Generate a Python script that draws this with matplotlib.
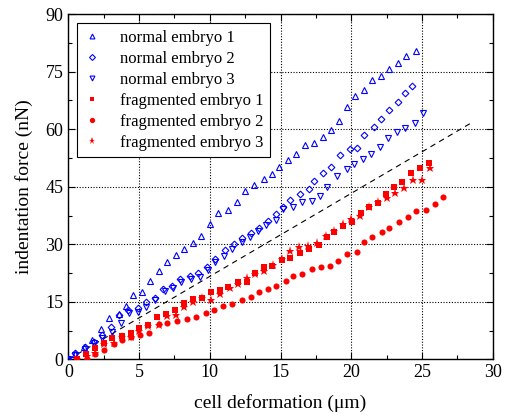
import matplotlib
matplotlib.use("Agg")
import matplotlib.pyplot as plt
import numpy as np

plt.rcParams['font.family'] = ['Liberation Serif', 'DejaVu Serif']
plt.rcParams['mathtext.fontset'] = 'stix'

# normal embryo 1 (open triangles up)
n1_x = [0, 0.5, 1.1, 1.7, 2.3, 2.9, 3.6, 4.1, 4.6, 5.2, 5.8, 6.4, 7.0, 7.6, 8.2, 8.8, 9.4, 10.0, 10.6, 11.3, 11.9,
        12.5, 13.1, 13.8, 14.4, 14.9, 15.5, 16.1, 16.7, 17.4, 18.0, 18.6, 19.15, 19.7, 20.3, 20.9, 21.5, 22.1, 22.7,
        23.3, 23.9, 24.55]
n1_y = [0, 1.5, 3.3, 5.0, 8.0, 10.7, 11.8, 13.8, 16.7, 17.6, 20.4, 23.1, 25.4, 27.1, 28.9, 30.3, 32.3, 35.2, 38.1,
        39.0, 41.1, 44.0, 45.5, 47.0, 48.4, 50.1, 51.9, 53.6, 56.0, 56.4, 58.1, 59.8, 62.2, 65.9, 68.7, 70.3, 72.8,
        73.8, 75.6, 77.3, 79.0, 80.4]

# normal embryo 2 (open diamonds)
n2_x = [0, 0.5, 1.2, 1.8, 2.4, 3.0, 3.6, 4.2, 4.9, 5.5, 6.1, 6.7, 7.3, 7.9, 8.6, 9.2, 9.8, 10.4, 11.05, 11.7, 12.25,
        12.9, 13.5, 14.1, 14.7, 15.2, 15.7, 16.4, 17.0, 17.4, 18.0, 18.6, 19.2, 19.9, 20.4, 20.9, 21.6, 22.1, 22.7,
        23.3, 23.8, 24.3]
n2_y = [0, 1.6, 3.3, 4.6, 6.3, 8.5, 11.6, 12.9, 13.5, 15.0, 15.9, 18.3, 19.1, 21.0, 21.8, 22.4, 24.2, 26.1, 28.5,
        30.0, 31.6, 32.9, 34.2, 36.1, 37.8, 39.7, 41.5, 43.0, 44.4, 46.6, 48.6, 50.2, 53.3, 54.9, 55.1, 58.5, 60.5,
        62.7, 65.0, 67.0, 69.5, 71.2]

# normal embryo 3 (open triangles down)
n3_x = [0, 0.5, 1.2, 1.8, 2.4, 3.1, 3.7, 4.3, 4.9, 5.5, 6.1, 6.8, 7.4, 8.0, 8.65, 9.3, 9.9, 10.4, 11.0, 11.6, 12.25,
        12.85, 13.4, 14.0, 14.7, 15.2, 15.9, 16.5, 17.2, 17.8, 18.3, 19.0, 19.7, 20.2, 20.85, 21.4, 22.0, 22.6,
        23.25, 23.8, 24.5, 25.1]
n3_y = [0, 1.2, 2.8, 4.2, 5.6, 7.2, 9.5, 12.0, 12.4, 13.7, 15.5, 17.9, 18.6, 20.2, 20.9, 21.6, 23.2, 25.5, 26.9,
        28.8, 30.7, 32.0, 33.5, 35.0, 36.3, 39.2, 39.7, 41.0, 41.4, 42.7, 44.9, 47.8, 49.6, 50.9, 52.3, 53.6, 55.5,
        57.6, 59.2, 60.4, 61.7, 64.2]

# fragmented embryo 1 (filled squares)
f1_x = [0.6, 1.25, 1.9, 2.5, 3.1, 3.8, 4.4, 5.0, 5.65, 6.3, 6.9, 7.55, 8.2, 8.8, 9.45, 10.1, 10.7, 11.3, 12.0, 12.6,
        13.2, 13.8, 14.4, 15.1, 15.7, 16.4, 17.0, 17.7, 18.3, 18.8, 19.45, 20.05, 20.7, 21.25, 21.9, 22.45, 23.0,
        23.6, 24.2, 24.85, 25.5]
f1_y = [0, 1.4, 3.0, 4.3, 5.5, 6.1, 6.8, 8.1, 9.1, 11.0, 11.9, 12.9, 14.6, 15.7, 16.0, 17.6, 18.1, 18.8, 20.2, 20.2,
        22.5, 24.2, 24.4, 25.9, 26.5, 27.7, 28.9, 29.8, 31.8, 33.2, 34.8, 35.7, 38.1, 39.8, 40.9, 43.2, 45.0, 46.3,
        48.5, 49.9, 51.3]

# fragmented embryo 2 (filled circles)
f2_x = [1.3, 1.9, 2.5, 3.2, 3.8, 4.4, 5.1, 5.7, 6.4, 7.0, 7.7, 8.4, 9.0, 9.7, 10.3, 10.95, 11.55, 12.25, 12.9, 13.5,
        14.1, 14.7, 15.4, 15.9, 16.5, 17.25, 17.85, 18.5, 19.1, 19.7, 20.4, 20.9, 21.5, 22.15, 22.7, 23.4, 24.0,
        24.6, 25.3, 25.95, 26.5]
f2_y = [0, 1.3, 2.5, 4.1, 5.1, 5.9, 6.3, 6.9, 9.2, 9.6, 10.0, 10.5, 11.1, 12.0, 13.0, 13.9, 14.4, 15.5, 16.3, 17.5,
        18.3, 19.2, 20.4, 21.8, 22.2, 23.5, 24.0, 24.3, 25.6, 27.4, 27.9, 30.7, 31.8, 33.3, 34.2, 35.7, 37.2, 38.8,
        39.0, 40.5, 42.4]

# fragmented embryo 3 (filled stars)
f3_x = [0.6, 1.3, 1.9, 2.5, 3.2, 3.8, 4.4, 5.0, 5.65, 6.4, 6.95, 7.6, 8.2, 8.8, 9.45, 10.1, 10.7, 11.4, 12.0, 12.6,
        13.2, 13.85, 14.45, 15.1, 15.7, 16.3, 16.97, 17.6, 18.2, 18.8, 19.45, 20.0, 20.6, 21.25, 21.9, 22.5, 23.1,
        23.7, 24.4, 25.0, 25.6]
f3_y = [0, 0.9, 1.6, 4.0, 4.2, 5.9, 5.9, 7.4, 8.7, 8.9, 11.2, 11.6, 13.6, 15.0, 15.9, 15.6, 17.0, 18.5, 19.6, 21.1,
        22.3, 23.1, 24.6, 26.2, 28.2, 29.2, 29.6, 30.4, 32.2, 33.6, 35.3, 36.5, 37.5, 39.7, 41.1, 42.0, 43.3, 44.6,
        46.8, 46.8, 49.8]

# dashed reference line
ref_x = [0, 28.6]
ref_y = [0, 61.9]

labels = ["normal embryo 1", "normal embryo 2", "normal embryo 3",
          "fragmented embryo 1", "fragmented embryo 2", "fragmented embryo 3"]
x_ticks = [0, 5, 10, 15, 20, 25, 30]
y_ticks = [0, 15, 30, 45, 60, 75, 90]

fig = plt.figure(figsize=(5.10, 4.16), dpi=100)
ax = fig.add_axes([0.134, 0.136, 0.832, 0.830])

blue = '#0000ff'
red = '#ff0000'
ax.plot(ref_x, ref_y, color='black', linestyle=(0, (5, 4)), linewidth=0.8, zorder=2)

kw_open = dict(linestyle='none', markerfacecolor='none', markeredgecolor=blue, markeredgewidth=0.8, zorder=3)
kw_fill = dict(linestyle='none', color=red, markeredgewidth=0, zorder=3)
ax.plot(n1_x, n1_y, marker='^', markersize=4.3, label=labels[0], **kw_open)
ax.plot(n2_x, n2_y, marker='D', markersize=3.4, label=labels[1], **kw_open)
ax.plot(n3_x, n3_y, marker='v', markersize=4.3, label=labels[2], **kw_open)
ax.plot(f1_x, f1_y, marker='s', markersize=4.0, label=labels[3], **kw_fill)
ax.plot(f2_x, f2_y, marker='o', markersize=4.4, label=labels[4], **kw_fill)
ax.plot(f3_x, f3_y, marker='*', markersize=6.8, label=labels[5], **kw_fill)

ax.set_xlim(0, 30)
ax.set_ylim(0, 90)
ax.set_xticks(x_ticks)
ax.set_yticks(y_ticks)
ax.set_xticks(np.arange(0, 30.1, 2.5), minor=True)
ax.set_yticks(np.arange(0, 90.1, 7.5), minor=True)
ax.tick_params(which='both', direction='in', top=True, right=True, labelsize=13, width=0.8)
ax.tick_params(which='major', length=5)
ax.tick_params(which='minor', length=3)
ax.grid(True, which='major', linestyle=(0, (1, 1.5)), color='black', linewidth=0.8)
for s in ax.spines.values():
    s.set_linewidth(1.0)

ax.set_xlabel("cell deformation (μm)", fontsize=14, labelpad=9)
ax.set_ylabel("indentation force (nN)", fontsize=14, labelpad=9)

leg = ax.legend(loc='upper left', bbox_to_anchor=(0.02, 0.974), borderaxespad=0, fontsize=12, numpoints=1,
                handlelength=1.0, handletextpad=1.2, labelspacing=0.3, borderpad=0.4,
                fancybox=False, framealpha=1, edgecolor='black')
leg.get_frame().set_linewidth(0.8)
for h, ms in zip(leg.legend_handles, [3.5, 3.0, 3.5, 3.4, 3.8, 5.2]):
    h.set_markersize(ms)

fig.savefig("out.png", dpi=100)
